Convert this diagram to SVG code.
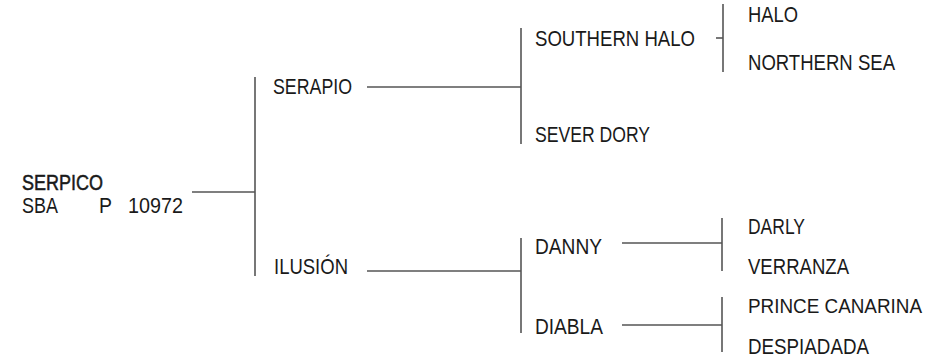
<svg xmlns="http://www.w3.org/2000/svg" width="948" height="359" viewBox="0 0 948 359">
<style>
text{font-family:"Liberation Sans",Arial,sans-serif;font-size:22px;fill:#1a1a1a}
.b{stroke:#1a1a1a;stroke-width:0.5}
.s{font-size:21px}
.c line{stroke:#555;stroke-width:1.6;fill:none}
</style>
<rect width="948" height="359" fill="#fff"/>
<g class="c" id="connectors">
<line x1="192" y1="192" x2="255" y2="192"/>
<line x1="255" y1="77" x2="255" y2="276"/>
<line x1="367" y1="87" x2="521" y2="87"/>
<line x1="521" y1="28" x2="521" y2="144"/>
<line x1="716" y1="38" x2="723" y2="38"/>
<line x1="723" y1="4" x2="723" y2="72"/>
<line x1="367" y1="271" x2="521" y2="271"/>
<line x1="521" y1="238" x2="521" y2="333"/>
<line x1="622" y1="243" x2="722" y2="243"/>
<line x1="722" y1="218" x2="722" y2="271"/>
<line x1="622" y1="325" x2="722" y2="325"/>
<line x1="722" y1="297" x2="722" y2="352"/>
</g>
<g id="serpico">
<text class="b" x="22" y="190" textLength="81" lengthAdjust="spacingAndGlyphs">SERPICO</text>
<text x="22" y="213" textLength="36" lengthAdjust="spacingAndGlyphs">SBA</text>
<text x="99" y="213" textLength="13" lengthAdjust="spacingAndGlyphs">P</text>
<text x="128" y="213" textLength="55" lengthAdjust="spacingAndGlyphs">10972</text>
</g>
<g id="serapio"><text x="273" y="94" textLength="79" lengthAdjust="spacingAndGlyphs">SERAPIO</text></g>
<g id="ilusion"><text x="274" y="274" textLength="74" lengthAdjust="spacingAndGlyphs">ILUSIÓN</text></g>
<g id="southern-halo"><text x="535" y="46" textLength="160" lengthAdjust="spacingAndGlyphs">SOUTHERN HALO</text></g>
<g id="sever-dory"><text x="535" y="142" textLength="115" lengthAdjust="spacingAndGlyphs">SEVER DORY</text></g>
<g id="danny"><text x="535" y="254" textLength="67" lengthAdjust="spacingAndGlyphs">DANNY</text></g>
<g id="diabla"><text x="535" y="334" textLength="68" lengthAdjust="spacingAndGlyphs">DIABLA</text></g>
<g id="halo"><text x="748" y="22" textLength="50" lengthAdjust="spacingAndGlyphs">HALO</text></g>
<g id="northern-sea"><text x="748" y="70" textLength="147" lengthAdjust="spacingAndGlyphs">NORTHERN SEA</text></g>
<g id="darly"><text x="748" y="234" textLength="57" lengthAdjust="spacingAndGlyphs">DARLY</text></g>
<g id="verranza"><text x="748" y="274" textLength="101" lengthAdjust="spacingAndGlyphs">VERRANZA</text></g>
<g id="prince-canarina"><text class="s" x="748" y="313" textLength="174" lengthAdjust="spacingAndGlyphs">PRINCE CANARINA</text></g>
<g id="despiadada"><text x="748" y="354" textLength="121" lengthAdjust="spacingAndGlyphs">DESPIADADA</text></g>
</svg>
